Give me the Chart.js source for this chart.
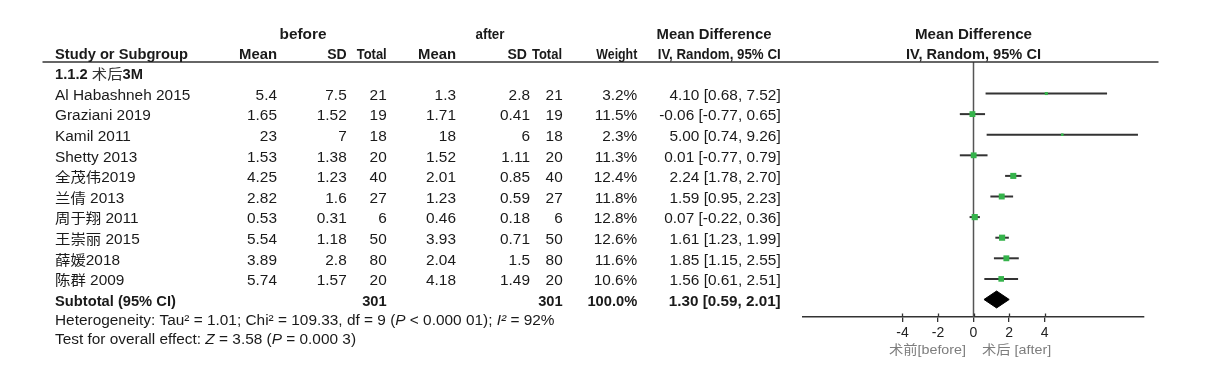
<!DOCTYPE html>
<html><head><meta charset="utf-8">
<script src="https://cdn.jsdelivr.net/npm/chart.js@4/dist/chart.umd.min.js"></script>
<style>html,body{margin:0;padding:0;background:#fff;}canvas{display:block;}</style>
</head><body>
<canvas id="c" width="1221" height="379"></canvas>
<script>
// ---- data ----
const studies = ["Al Habashneh 2015","Graziani 2019","Kamil 2011","Shetty 2013","全茂伟2019","兰倩 2013","周于翔 2011","王崇丽 2015","薛媛2018","陈群 2009"];
const beforeMean  = [5.4, 1.65, 23, 1.53, 4.25, 2.82, 0.53, 5.54, 3.89, 5.74];
const beforeSD    = [7.5, 1.52, 7, 1.38, 1.23, 1.6, 0.31, 1.18, 2.8, 1.57];
const beforeTotal = [21, 19, 18, 20, 40, 27, 6, 50, 80, 20];
const afterMean   = [1.3, 1.71, 18, 1.52, 2.01, 1.23, 0.46, 3.93, 2.04, 4.18];
const afterSD     = [2.8, 0.41, 6, 1.11, 0.85, 0.59, 0.18, 0.71, 1.5, 1.49];
const afterTotal  = [21, 19, 18, 20, 40, 27, 6, 50, 80, 20];
const weights     = [3.2, 11.5, 2.3, 11.3, 12.4, 11.8, 12.8, 12.6, 11.6, 10.6];
const meanDiff    = [4.10, -0.06, 5.00, 0.01, 2.24, 1.59, 0.07, 1.61, 1.85, 1.56];
const ciLower     = [0.68, -0.77, 0.74, -0.77, 1.78, 0.95, -0.22, 1.23, 1.15, 0.61];
const ciUpper     = [7.52, 0.65, 9.26, 0.79, 2.70, 2.23, 0.36, 1.99, 2.55, 2.51];
const pooled      = [1.30, 0.59, 2.01];   // estimate, lower, upper
const pooledTotals = [301, 301, 100.0];   // before total, after total, weight
const xTicks = [-4, -2, 0, 2, 4];
const subgroupLabel = ["1.1.2 ", "术后", "3M"];
const sideLabels = ["术前[before]", "术后 [after]"];

// ---- layout constants ----
const Y_MIN = -1.53, Y_MAX = 10.85;
const SUB_ROW = studies.length;
const SX = 1.1;
const FF = '"Liberation Sans", Arial, "Noto Sans CJK SC", sans-serif';
const F  = '14px ' + FF, FI = 'italic 14px ' + FF;
const FB = 'bold 14px ' + FF;
const TXT = '#1a1a1a', LINE = '#333333', GREEN = '#35b34b';

// draw text; if w given, stretch/squeeze horizontally to that width
function t(ctx, str, x, y, align, font, color, sx, w) {
  ctx.save();
  ctx.font = font; ctx.fillStyle = color || TXT; ctx.textAlign = align; ctx.textBaseline = 'middle';
  let s = sx || SX;
  if (w) s = w / ctx.measureText(str).width;
  ctx.translate(x, y); ctx.scale(s, 1); ctx.fillText(str, 0, 0);
  ctx.restore();
}
function rich(ctx, segs, x, y) {
  let cx = x;
  for (const [str, font, color, sx] of segs) {
    const s = sx || SX;
    ctx.save();
    ctx.font = font; ctx.fillStyle = color || TXT; ctx.textAlign = 'left'; ctx.textBaseline = 'middle';
    ctx.translate(cx, y); ctx.scale(s, 1); ctx.fillText(str, 0, 0);
    cx += ctx.measureText(str).width * s;
    ctx.restore();
  }
}
const f2 = v => v.toFixed(2);
const ciText = (m, l, h) => f2(m) + ' [' + f2(l) + ', ' + f2(h) + ']';
const hb = (ctx, str, x, y, align, w) => t(ctx, str, x, y, align, FB, TXT, 1.05, w);

const tablePlugin = {
  id: 'tablePlugin',
  afterDraw(chart) {
    const ctx = chart.ctx;
    const ys = chart.scales.y, xs = chart.scales.x;
    const ry = r => ys.getPixelForValue(r) + 2.5;
    const x0 = xs.getPixelForValue(0);
    // header line
    ctx.save();
    ctx.strokeStyle = LINE; ctx.lineWidth = 1.5;
    ctx.beginPath(); ctx.moveTo(42.5, ys.getPixelForValue(Y_MIN)); ctx.lineTo(1158.5, ys.getPixelForValue(Y_MIN)); ctx.stroke();
    // tick stubs above the axis line
    const yb = chart.chartArea.bottom;
    ctx.lineWidth = 1.3;
    xs.ticks.forEach(tk => {
      const px = Math.round(xs.getPixelForValue(tk.value)) + 0.5;
      ctx.beginPath(); ctx.moveTo(px, yb - 3.5); ctx.lineTo(px, yb); ctx.stroke();
    });
    ctx.restore();
    // header rows
    const h1 = ry(-2.95), h2 = ry(-2);
    hb(ctx, 'before', 303, h1, 'center', 47);
    hb(ctx, 'after', 490, h1, 'center', 29);
    hb(ctx, 'Mean Difference', 714, h1, 'center', 115);
    hb(ctx, 'Mean Difference', x0, h1, 'center', 117);
    hb(ctx, 'Study or Subgroup', 55, h2, 'left', 133);
    hb(ctx, 'Mean', 277, h2, 'right', 38);
    hb(ctx, 'SD', 346.7, h2, 'right', 19.5);
    hb(ctx, 'Total', 386.7, h2, 'right', 30);
    hb(ctx, 'Mean', 456, h2, 'right', 38);
    hb(ctx, 'SD', 527, h2, 'right', 19.5);
    hb(ctx, 'Total', 562, h2, 'right', 30);
    hb(ctx, 'Weight', 637.3, h2, 'right', 41);
    hb(ctx, 'IV, Random, 95% CI', 780.7, h2, 'right', 123);
    hb(ctx, 'IV, Random, 95% CI', x0, h2, 'center', 135);
    // subgroup label
    rich(ctx, [[subgroupLabel[0], FB, TXT, 1.05], [subgroupLabel[1], F, '#333'], [subgroupLabel[2], FB, TXT, 1.05]], 55, ry(-1));
    // study rows
    studies.forEach((s, i) => {
      const y = ry(i);
      t(ctx, s, 55, y, 'left', F);
      t(ctx, String(beforeMean[i]), 277, y, 'right', F);
      t(ctx, String(beforeSD[i]), 346.7, y, 'right', F);
      t(ctx, String(beforeTotal[i]), 386.7, y, 'right', F);
      t(ctx, String(afterMean[i]), 456, y, 'right', F);
      t(ctx, String(afterSD[i]), 530, y, 'right', F);
      t(ctx, String(afterTotal[i]), 562.7, y, 'right', F);
      t(ctx, weights[i].toFixed(1) + '%', 637.3, y, 'right', F);
      t(ctx, ciText(meanDiff[i], ciLower[i], ciUpper[i]), 780.7, y, 'right', F);
    });
    // subtotal
    const ys2 = ry(SUB_ROW);
    hb(ctx, 'Subtotal (95% CI)', 55, ys2, 'left');
    hb(ctx, String(pooledTotals[0]), 386.7, ys2, 'right');
    hb(ctx, String(pooledTotals[1]), 562.7, ys2, 'right');
    hb(ctx, pooledTotals[2].toFixed(1) + '%', 637.3, ys2, 'right');
    hb(ctx, ciText(pooled[0], pooled[1], pooled[2]), 780.7, ys2, 'right', 112);
    // footnotes
    rich(ctx, [['Heterogeneity: Tau² = 1.01; Chi² = 109.33, df = 9 (', F], ['P', FI], [' < 0.000 01); ', F], ['I²', FI], [' = 92%', F]], 55, ry(10.92));
    rich(ctx, [['Test for overall effect: ', F], ['Z', FI], [' = 3.58 (', F], ['P', FI], [' = 0.000 3)', F]], 55, ry(11.84));
    // side labels
    const fs = '13px "Liberation Sans", "Noto Sans CJK SC", sans-serif';
    t(ctx, sideLabels[0], 966, ry(12.33), 'right', fs, '#7d7d7d');
    t(ctx, sideLabels[1], 982, ry(12.33), 'left', fs, '#7d7d7d');
  }
};

const datasets = [];
// markers (on top)
datasets.push({
  data: meanDiff.map((m, i) => ({ x: m, y: i })),
  pointStyle: 'rect',
  pointRadius: weights.map(w => 1.22 * Math.sqrt(w)),
  backgroundColor: GREEN, borderColor: GREEN, borderWidth: 0,
  showLine: false, order: 0
});
// confidence intervals
studies.forEach((s, i) => {
  datasets.push({
    data: [{ x: ciLower[i], y: i }, { x: ciUpper[i], y: i }],
    showLine: true, borderColor: LINE, borderWidth: 2, pointRadius: 0, order: 1
  });
});
// pooled diamond
datasets.push({
  data: [{ x: pooled[1], y: SUB_ROW }, { x: pooled[0], y: SUB_ROW - 0.41 }, { x: pooled[2], y: SUB_ROW }, { x: pooled[0], y: SUB_ROW + 0.41 }, { x: pooled[1], y: SUB_ROW }],
  showLine: true, fill: 'shape', backgroundColor: '#000', borderColor: '#000', borderWidth: 1, pointRadius: 0, tension: 0, order: 1
});
// zero line
datasets.push({
  data: [{ x: 0, y: Y_MIN }, { x: 0, y: Y_MAX }],
  showLine: true, borderColor: '#555', borderWidth: 1.5, pointRadius: 0, order: 2
});

new Chart(document.getElementById('c'), {
  type: 'scatter',
  data: { datasets },
  options: {
    responsive: false, animation: false, devicePixelRatio: 1,
    layout: { autoPadding: false, padding: { left: 803, right: 77, top: 62, bottom: 32 } },
    plugins: { legend: { display: false }, tooltip: { enabled: false } },
    events: [],
    scales: {
      x: {
        type: 'linear', min: -9.6, max: 9.6,
        afterBuildTicks: sc => { sc.ticks = xTicks.map(v => ({ value: v })); },
        afterFit: sc => { sc.height = 30; },
        grid: { drawOnChartArea: false, drawTicks: true, tickLength: 5, color: LINE, lineWidth: 1.3 },
        border: { display: true, color: LINE, width: 1.5 },
        ticks: { color: '#222', padding: 3, font: { size: 14, family: '"Liberation Sans", Arial, sans-serif' }, autoSkip: false, maxRotation: 0 }
      },
      y: { type: 'linear', reverse: true, min: Y_MIN, max: Y_MAX, display: false }
    }
  },
  plugins: [tablePlugin]
});
</script>
</body></html>
